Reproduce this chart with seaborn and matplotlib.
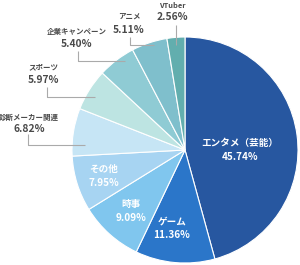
import matplotlib
matplotlib.use("Agg")
import matplotlib.pyplot as plt
import seaborn as sns

categories = ["エンタメ（芸能）", "ゲーム", "時事", "その他", "診断メーカー関連",
              "スポーツ", "企業キャンペーン", "アニメ", "VTuber"]
shares = [45.74, 11.36, 9.09, 7.95, 6.82, 5.97, 5.40, 5.11, 2.56]
pct_labels = ["45.74%", "11.36%", "9.09%", "7.95%", "6.82%", "5.97%", "5.40%", "5.11%", "2.56%"]
colors = ["#2757a0", "#2b76c9", "#80c6ee", "#a7d4f2", "#c6e5f5",
          "#bde4e2", "#8fcbd4", "#7fbfcc", "#62aeae"]

sns.set_theme(style="white")
plt.rcParams["font.family"] = ["Noto Sans CJK JP", "DejaVu Sans"]

W, H = 300, 265
fig = plt.figure(figsize=(3.0, 2.65), dpi=100)
ax = fig.add_axes([0, 0, 1, 1])

def Y(y):
    return H - y

cx, cy, r = 185, 150, 113
palette = sns.color_palette(colors)
ax.pie(shares, colors=palette, startangle=90, counterclock=False,
       center=(cx, Y(cy)), radius=r,
       wedgeprops=dict(edgecolor="white", linewidth=0.8))
ax.set_xlim(0, W)
ax.set_ylim(0, H)
ax.set_aspect("equal")
ax.axis("off")

# inner labels (white)
inner = {0: (240, 150), 1: (172, 228), 2: (131, 211), 3: (104, 176)}
for i, (x, y) in inner.items():
    ax.text(x, Y(y - 6.8), categories[i], color="white", fontsize=6.9,
            fontweight="bold", ha="center", va="center")
    ax.text(x, Y(y + 6.8), pct_labels[i], color="white", fontsize=7.2,
            fontweight="bold", ha="center", va="center")

# outer labels with leader lines
txt = "#4a4a4a"
line = "#aaaaaa"
outer = {
    4: dict(label=(29, 117, 129), path=[(28, 134), (28, 145), (85, 145)]),
    5: dict(label=(43, 67, 80), path=[(47, 87), (47, 97), (95, 97)]),
    6: dict(label=(77, 31, 44), path=[(78, 51), (78, 61), (125, 61)]),
    7: dict(label=(129, 17, 30), path=[(130, 37), (130, 45), (154, 45)]),
    8: dict(label=(172, 5, 17), path=[(176, 25), (176, 45)]),
}
for i, d in outer.items():
    x, y1, y2 = d["label"]
    ax.text(x, Y(y1), categories[i], color=txt, fontsize=5.4,
            fontweight="bold", ha="center", va="center")
    ax.text(x, Y(y2), pct_labels[i], color=txt, fontsize=7.4,
            fontweight="bold", ha="center", va="center")
    xs = [p[0] for p in d["path"]]
    ys = [Y(p[1]) for p in d["path"]]
    ax.plot(xs, ys, color=line, linewidth=0.8, solid_capstyle="butt")

fig.savefig("out.png", dpi=100)
